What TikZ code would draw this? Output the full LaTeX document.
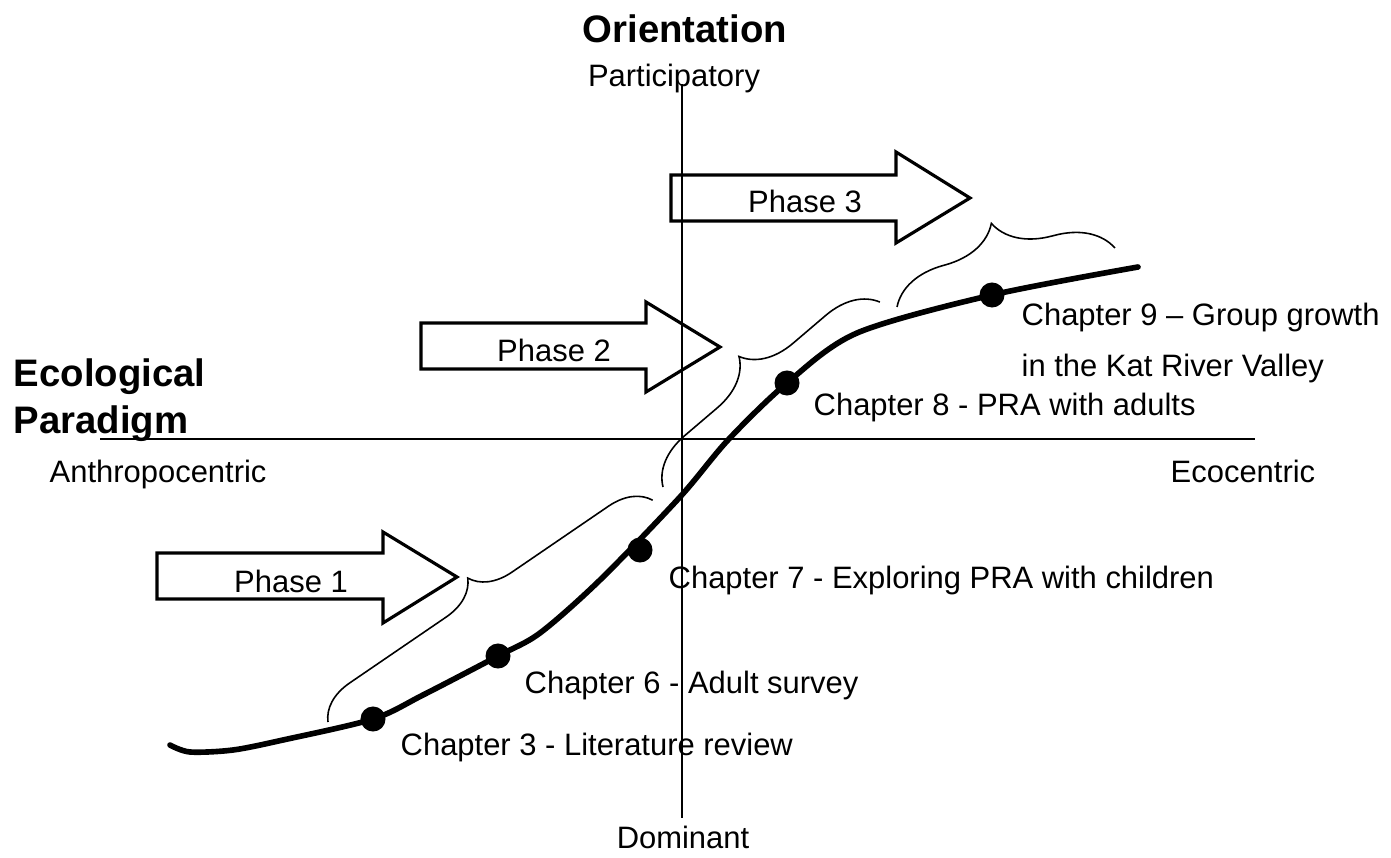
\documentclass[tikz,border=0pt]{standalone}
\usepackage{fontspec}
\setmainfont{Liberation Sans}
\usetikzlibrary{decorations.pathreplacing}
\begin{document}
\begin{tikzpicture}[x=0.01cm, y=-0.01cm,
  axis/.style={line width=0.5pt},
  phasearrow/.style={line width=0.9pt, line join=miter},
  lbl/.style={font=\fontsize{8.8}{10}\selectfont, inner sep=0pt},
  title/.style={font=\fontsize{10.9}{12}\selectfont\bfseries, inner sep=0pt},
  bracket/.style={line width=0.45pt, decorate, decoration={brace, amplitude=#1}},
  dot/.style={circle, fill=black, minimum size=0.25cm, inner sep=0pt},
  trend/.style={line width=1.6pt, line cap=round}]
\useasboundingbox (0,0) rectangle (1391,858);

% axes
\coordinate (axL) at (100,439);
\coordinate (axR) at (1255,439);
\coordinate (axT) at (682,84);
\coordinate (axB) at (682,818);
\draw[axis] (axL) -- (axR);
\draw[axis] (axT) -- (axB);

% axis titles and pole labels
\node[title, anchor=base] (orient) at (685,43) {Orientation};
\node[lbl, anchor=base] (partic) at (674,87) {Participatory};
\node[lbl, anchor=base] (domin) at (683,848) {Dominant};
\node[title, anchor=base west] (ecoA) at (13,387) {Ecological};
\node[title, anchor=base west] (ecoB) at (13,433) {Paradigm};
\node[lbl, anchor=base west] (anthro) at (49,482) {Anthropocentric};
\node[lbl, anchor=base west] (ecocen) at (1170,482) {Ecocentric};

% phase arrows
\draw[phasearrow] (157,553) -- (383,553) -- (383,532) -- (457,577) -- (383,623) -- (383,599) -- (157,599) -- cycle;
\node[lbl, anchor=base] (ph1) at (291,592) {Phase 1};
\draw[phasearrow] (421,323) -- (646,323) -- (646,302) -- (720,347) -- (646,392) -- (646,369) -- (421,369) -- cycle;
\node[lbl, anchor=base] (ph2) at (554,362) {Phase 2};
\draw[phasearrow] (671,175) -- (896,175) -- (896,152) -- (970,198) -- (896,243) -- (896,221) -- (671,221) -- cycle;
\node[lbl, anchor=base] (ph3) at (805,213) {Phase 3};

% chapter markers
\node[dot] (c3) at (373,719) {};
\node[dot] (c6) at (498,656) {};
\node[dot] (c7) at (640,550) {};
\node[dot] (c8) at (787,383) {};
\node[dot] (c9) at (992,295) {};

% trend line
\draw[trend] plot[smooth, tension=0.5] coordinates {
  (170,745) (190,752) (233,750) (283,740) (c3.center) (423,695) (c6.center)
  (540,633) (600,580) (680,497) (728,440) (c8.center) (857,333) (c9.center) (1138,267)};

% phase brackets
\draw[bracket=0.4cm] (328,722) -- (653,500);
\draw[bracket=0.5cm] (663,487) -- (880,302);
\draw[bracket=0.56cm] (897,307) -- (1115,248);

% chapter labels
\node[lbl, anchor=base west] (t3) at (400,755) {Chapter 3 - Literature review};
\node[lbl, anchor=base west] (t6) at (524,693) {Chapter 6 - Adult survey};
\node[lbl, anchor=base west] (t7) at (668,588) {Chapter 7 - Exploring PRA with children};
\node[lbl, anchor=base west] (t8) at (813,416) {Chapter 8 - PRA with adults};
\node[lbl, anchor=base west] (t9a) at (1021,326) {Chapter 9 – Group growth};
\node[lbl, anchor=base west] (t9b) at (1021,377) {in the Kat River Valley};
\end{tikzpicture}
\end{document}
